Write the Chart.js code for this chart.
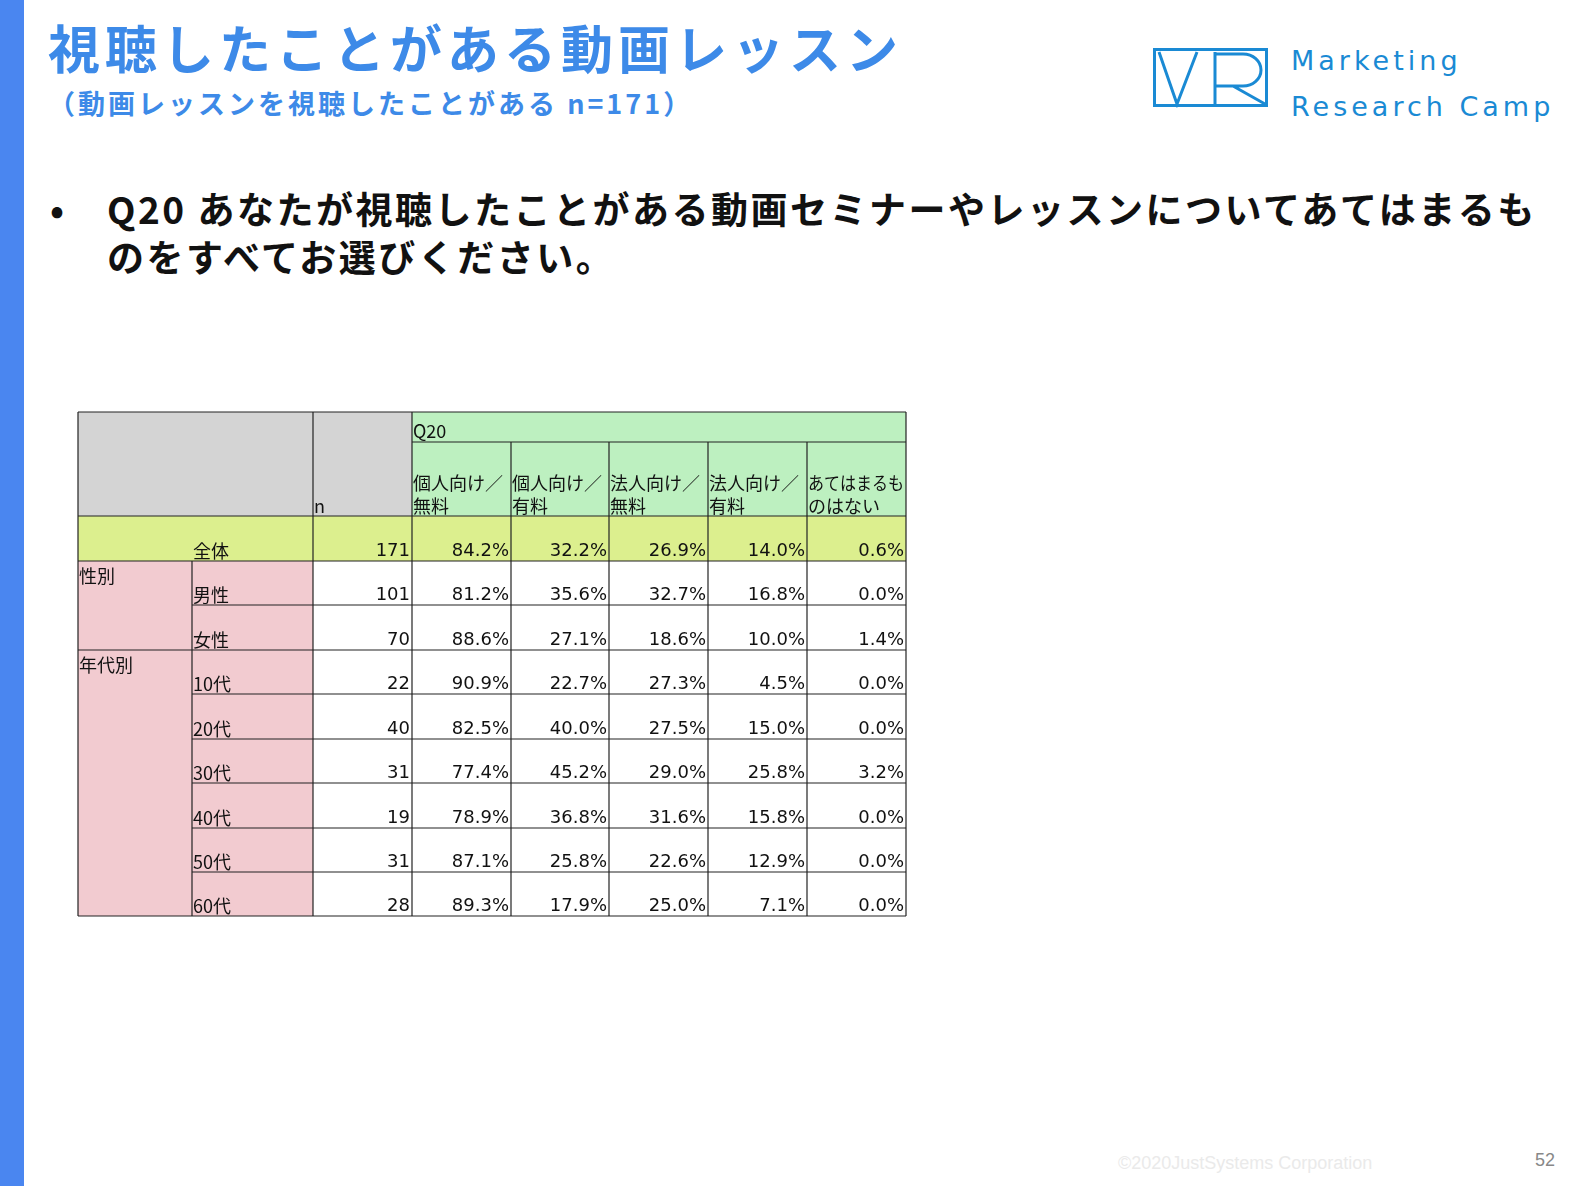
<!DOCTYPE html>
<html><head><meta charset="utf-8">
<script src="https://cdn.jsdelivr.net/npm/chart.js@4"></script>
<style>
body{margin:0;width:1570px;height:1186px;background:#fff;position:relative;overflow:hidden;font-family:"Noto Sans CJK JP",sans-serif}
#bar{position:absolute;left:0;top:0;width:24px;height:1186px;background:#4a86f0}
#t1{position:absolute;left:48px;top:14px;font-size:52px;font-weight:bold;color:#3d8ae8;letter-spacing:5px;line-height:66px}
#t2{position:absolute;left:48px;top:84px;font-size:27px;font-weight:bold;color:#3d8ae8;line-height:38px;letter-spacing:3px}
#q{position:absolute;left:50px;top:184px;font-size:37px;font-weight:bold;color:#111;line-height:48px;width:1510px;letter-spacing:2.5px}
#q .b{position:absolute;left:0;top:0}
#q .tx{margin-left:57px}
#logo{position:absolute;left:1153px;top:48px}
#lt{position:absolute;left:1291px;top:38px;font-family:"DejaVu Sans";font-size:27px;color:#1a8ad4;letter-spacing:4px;line-height:46px}
#cp{position:absolute;left:1118px;top:1153px;font-family:Arial,"Liberation Sans";font-size:18px;color:#eaeaea}
#pg{position:absolute;left:1535px;top:1150px;font-family:Arial,"Liberation Sans";font-size:18px;color:#888}
#c{position:absolute;left:0;top:0}
</style></head><body>
<div id="bar"></div>
<div id="t1">視聴したことがある動画レッスン</div>
<div id="t2">（動画レッスンを視聴したことがある n=171）</div>
<div id="q"><span class="b">•</span><div class="tx">Q20 あなたが視聴したことがある動画セミナーやレッスンについてあてはまるものをすべてお選びください。</div></div>
<svg id="logo" width="116" height="60" viewBox="0 0 116 60"><g fill="none" stroke="#1a8ad4" stroke-width="3"><rect x="1.5" y="1.5" width="112" height="56"/><path d="M6 4 L24 56 L44 4"/><path d="M62 4 V56 M62 6 H90 A18 16 0 0 1 90 38 H62 M80 38 L112 56"/></g></svg>
<div id="lt">Marketing<br>Research Camp</div>
<div id="cp">©2020JustSystems Corporation</div>
<div id="pg">52</div>
<canvas id="c" width="1570" height="1186"></canvas>
<script>
const groups=["","性別","","年代別","","","","","",""];
const rowLabels=["全体","男性","女性","10代","20代","30代","40代","50代","60代"];
const nValues=[171,101,70,22,40,31,19,31,28];
const colLabels=[["個人向け／","無料"],["個人向け／","有料"],["法人向け／","無料"],["法人向け／","有料"],["あてはまるも","のはない"]];
const s1=[84.2,81.2,88.6,90.9,82.5,77.4,78.9,87.1,89.3];
const s2=[32.2,35.6,27.1,22.7,40.0,45.2,36.8,25.8,17.9];
const s3=[26.9,32.7,18.6,27.3,27.5,29.0,31.6,22.6,25.0];
const s4=[14.0,16.8,10.0,4.5,15.0,25.8,15.8,12.9,7.1];
const s5=[0.6,0.0,1.4,0.0,0.0,3.2,0.0,0.0,0.0];
const series=[s1,s2,s3,s4,s5];

const colX=[78,192,313,412,511,609,708,807,906];
const rowY=[412,442,516,561,605,650,694,739,783,828,872,916];

const tablePlugin={id:'tbl',afterDraw(ch){
 const c=ch.ctx,X=v=>ch.scales.x.getPixelForValue(v),Y=v=>ch.scales.y.getPixelForValue(v);
 const rect=(x0,y0,x1,y1,f)=>{c.fillStyle=f;c.fillRect(X(x0),Y(y0),X(x1)-X(x0),Y(y1)-Y(y0));};
 c.save();
 rect(colX[0],rowY[0],colX[3],rowY[2],'#d4d4d4');
 rect(colX[3],rowY[0],colX[8],rowY[2],'#bdf0c0');
 rect(colX[0],rowY[2],colX[8],rowY[3],'#dcef8e');
 rect(colX[0],rowY[3],colX[2],rowY[11],'#f2cbd0');
 c.strokeStyle='#222';c.lineWidth=1.2;
 const L=(x0,y0,x1,y1)=>{c.beginPath();c.moveTo(X(x0),Y(y0));c.lineTo(X(x1),Y(y1));c.stroke();};
 L(colX[0],rowY[0],colX[8],rowY[0]);
 L(colX[3],rowY[1],colX[8],rowY[1]);
 L(colX[0],rowY[2],colX[8],rowY[2]);
 L(colX[0],rowY[3],colX[8],rowY[3]);
 for(let r=4;r<=10;r++){ L(r===5?colX[0]:colX[1],rowY[r],colX[8],rowY[r]); }
 L(colX[0],rowY[11],colX[8],rowY[11]);
 L(colX[0],rowY[0],colX[0],rowY[11]);
 L(colX[1],rowY[3],colX[1],rowY[11]);
 L(colX[2],rowY[0],colX[2],rowY[11]);
 L(colX[3],rowY[0],colX[3],rowY[11]);
 for(let k=4;k<8;k++) L(colX[k],rowY[1],colX[k],rowY[11]);
 L(colX[8],rowY[0],colX[8],rowY[11]);
 c.fillStyle='#111';c.font='18px "Noto Sans CJK JP"';c.textBaseline='bottom';
 c.textAlign='left';
 c.fillText('Q20',X(colX[3])+1,Y(rowY[1])-2);
 c.fillText('n',X(colX[2])+1,Y(rowY[2])-1);
 colLabels.forEach((l,i)=>{c.fillText(l[0],X(colX[3+i])+1,Y(rowY[2])-24,96);c.fillText(l[1],X(colX[3+i])+1,Y(rowY[2])-1);});
 c.font='19px "DejaVu Sans", "Noto Sans CJK JP"';
 rowLabels.forEach((l,i)=>{
  const yb=Y(rowY[3+i])-1;
  c.textAlign='left';c.font='18px "Noto Sans CJK JP"';c.fillText(l,X(colX[1])+1,yb);
  if(groups[i]) c.fillText(groups[i],X(colX[0])+1,Y(rowY[2+i])+24);
  c.font='18px "DejaVu Sans"';
  c.textAlign='right';c.fillText(String(nValues[i]),X(colX[3])-2,yb);
  series.forEach((s,j)=>c.fillText(s[i].toFixed(1)+'%',X(colX[4+j])-2,yb));
 });
 c.restore();
}};
new Chart(document.getElementById('c'),{type:'scatter',
 data:{datasets:[{data:[],pointRadius:0}]},
 options:{responsive:false,animation:false,layout:{padding:0},
  plugins:{legend:{display:false},tooltip:{enabled:false}},
  scales:{x:{type:'linear',min:0,max:1570,display:false},y:{type:'linear',min:0,max:1186,reverse:true,display:false}}},
 plugins:[tablePlugin]});
</script></body></html>
